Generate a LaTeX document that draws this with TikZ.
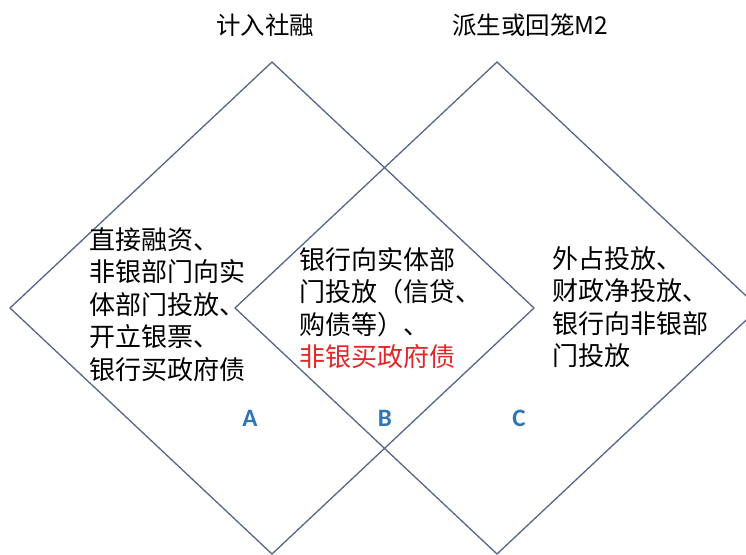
\documentclass[tikz,border=0pt]{standalone}
\usepackage{fontspec}
\newfontfamily\cjk{Noto Sans CJK SC}
\newfontfamily\lbl{Carlito}
\definecolor{edgeblue}{HTML}{55668C}
\definecolor{lblblue}{HTML}{2E75B6}
\definecolor{redtxt}{HTML}{E02828}
\begin{document}
\begin{tikzpicture}[x=1pt,y=-1pt,
  dia/.style={draw=edgeblue,line width=1.3pt,line join=miter},
  title/.style={font=\cjk\fontsize{24.5}{26}\selectfont,inner sep=0pt},
  body/.style={font=\cjk\fontsize{26}{32.5}\selectfont,inner sep=0pt,align=left,anchor=north west},
  lab/.style={font=\lbl\bfseries\fontsize{25}{25}\selectfont,text=lblblue,inner sep=0pt}]
\useasboundingbox (0,0) rectangle (746,554);
\clip (0,0) rectangle (746,554);
\fill[white] (0,0) rectangle (746,554);
% left diamond
\coordinate (L1) at (272,62);
\coordinate (L2) at (10,308);
\coordinate (L3) at (272,554);
\coordinate (L4) at (534,308);
\draw[dia] (L1) -- (L2) -- (L3) -- (L4) -- cycle;
% right diamond
\coordinate (R1) at (497,62);
\coordinate (R2) at (235,308);
\coordinate (R3) at (497,554);
\coordinate (R4) at (759,308);
\draw[dia] (R1) -- (R2) -- (R3) -- (R4) -- cycle;
\node[title] (t1) at (265,25) {计入社融};
\node[title] (t2) at (530,25) {派生或回笼M2};
\node[body] (a) at (89,227) {直接融资、\\非银部门向实\\体部门投放、\\开立银票、\\银行买政府债};
\node[body] (b) at (299,247) {银行向实体部\\门投放（信贷、\\购债等）、\\\textcolor{redtxt}{非银买政府债}};
\node[body] (c) at (552,246) {外占投放、\\财政净投放、\\银行向非银部\\门投放};
\node[lab] (la) at (250,418) {A};
\node[lab] (lb) at (385,418) {B};
\node[lab] (lc) at (519,418) {C};
\end{tikzpicture}
\end{document}
